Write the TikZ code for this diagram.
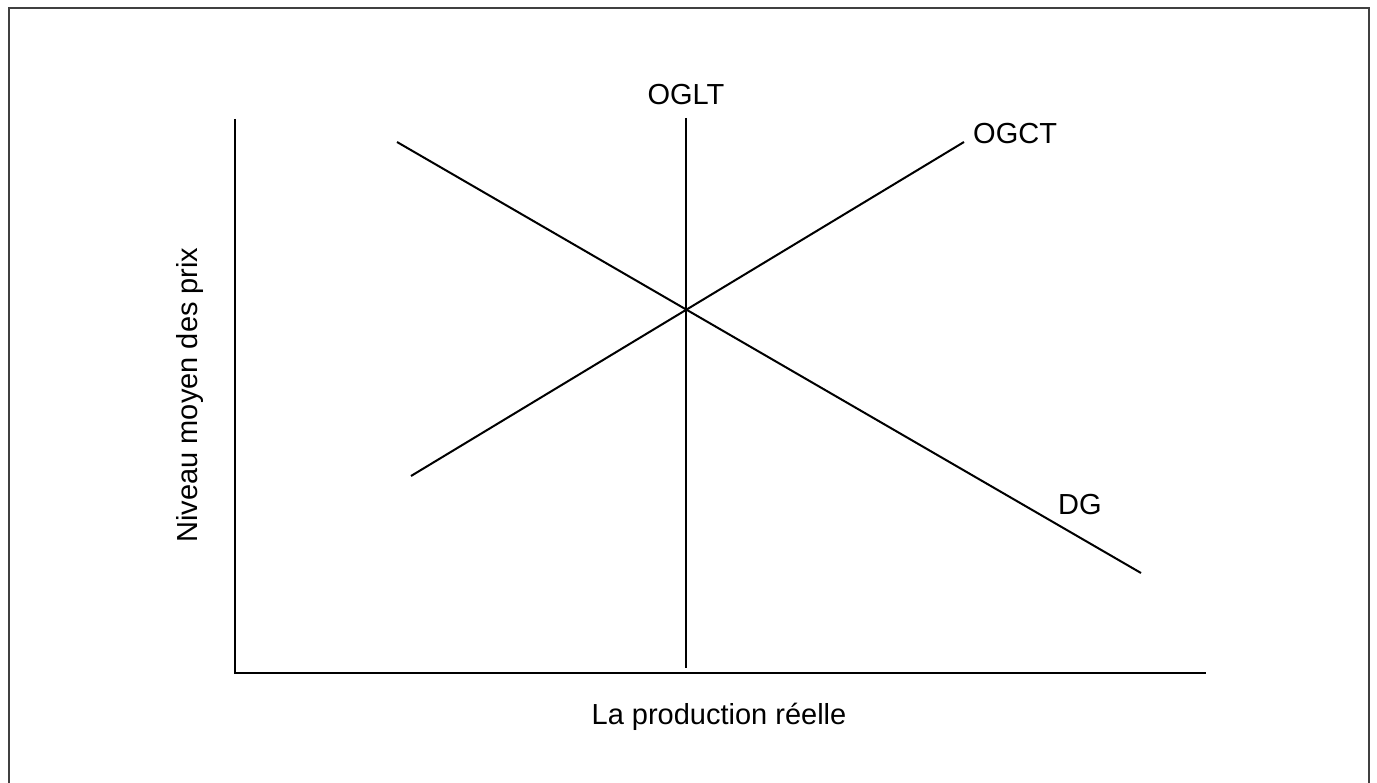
\documentclass[tikz,border=0pt]{standalone}
\usepackage{fontspec}
\setmainfont{Liberation Sans}
\begin{document}
\begin{tikzpicture}[x=1pt,y=-1pt,
  curve/.style={line width=2pt,black},
  axis/.style={line width=2.5pt,black},
  lbl/.style={font=\fontsize{29}{34}\selectfont,inner sep=0pt}]
\useasboundingbox (0,0) rectangle (1377,783);
\draw[line width=2pt,black!75] (9,800) -- (9,8) -- (1369,8) -- (1369,800);
% axes
\coordinate (O) at (235,673);
\coordinate (ytop) at (235,119);
\coordinate (xend) at (1206,673);
\draw[axis] (ytop) -- (O) -- (xend);
% OGLT
\coordinate (lt1) at (686,118);
\coordinate (lt2) at (686,668);
\draw[curve] (lt1) -- (lt2);
% OGCT
\coordinate (ct1) at (411,476);
\coordinate (ct2) at (964,142);
\draw[curve] (ct1) -- (ct2);
% DG
\coordinate (dg1) at (397,142);
\coordinate (dg2) at (1141,573);
\draw[curve] (dg1) -- (dg2);
% labels
\node[lbl] (oglt) at (686,95) {OGLT};
\node[lbl,anchor=west] (ogct) at (973,134) {OGCT};
\node[lbl,anchor=west] (dg) at (1058,505) {DG};
\node[lbl] (xl) at (719,717) {La production réelle};
\node[lbl,rotate=90] (yl) at (190,395) {Niveau moyen des prix};
\end{tikzpicture}
\end{document}
